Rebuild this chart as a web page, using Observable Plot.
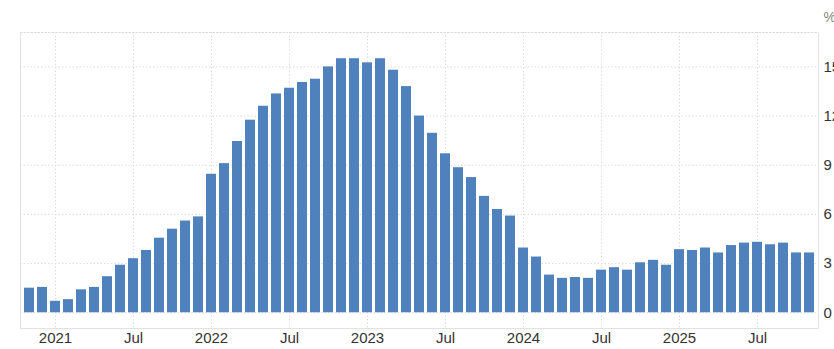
<!DOCTYPE html>
<html>
<head>
<meta charset="utf-8">
<script src="https://cdn.jsdelivr.net/npm/d3@7"></script>
<script src="https://cdn.jsdelivr.net/npm/@observablehq/plot@0.6"></script>
<style>
  html, body { margin: 0; padding: 0; background: #fff; }
  #chart svg { display: block; }
</style>
</head>
<body>
<div id="chart"></div>
<script>
const months = [
  "2020-11","2020-12",
  "2021-01","2021-02","2021-03","2021-04","2021-05","2021-06","2021-07","2021-08","2021-09","2021-10","2021-11","2021-12",
  "2022-01","2022-02","2022-03","2022-04","2022-05","2022-06","2022-07","2022-08","2022-09","2022-10","2022-11","2022-12",
  "2023-01","2023-02","2023-03","2023-04","2023-05","2023-06","2023-07","2023-08","2023-09","2023-10","2023-11","2023-12",
  "2024-01","2024-02","2024-03","2024-04","2024-05","2024-06","2024-07","2024-08","2024-09","2024-10","2024-11","2024-12",
  "2025-01","2025-02","2025-03","2025-04","2025-05","2025-06","2025-07","2025-08","2025-09","2025-10","2025-11"
];
const values = [
  1.5, 1.55,
  0.7, 0.8, 1.4, 1.55, 2.2, 2.9, 3.3, 3.8, 4.55, 5.1, 5.6, 5.85,
  8.45, 9.1, 10.45, 11.75, 12.6, 13.35, 13.7, 14.05, 14.25, 15.0, 15.5, 15.5,
  15.25, 15.5, 14.8, 13.8, 12.0, 10.95, 9.7, 8.85, 8.25, 7.1, 6.3, 5.9,
  3.95, 3.4, 2.3, 2.1, 2.15, 2.1, 2.6, 2.75, 2.6, 3.05, 3.2, 2.9,
  3.85, 3.8, 3.95, 3.65, 4.1, 4.25, 4.3, 4.15, 4.25, 3.65, 3.65
];
const tickMonths = ["2021-01","2021-07","2022-01","2022-07","2023-01","2023-07","2024-01","2024-07","2025-01","2025-07"];
const tickLabels = ["2021","Jul","2022","Jul","2023","Jul","2024","Jul","2025","Jul"];
const yTicks = [0, 3, 6, 9, 12, 15];
const yDomain = [-0.96, 17.1];
const unitLabel = "%";

const data = months.map((m, i) => ({month: m, value: values[i]}));
const labelOf = new Map(tickMonths.map((m, i) => [m, tickLabels[i]]));

const gridColor = "#dcdcdc";
const frameColor = "#e2e2e2";

const chart = Plot.plot({
  width: 834,
  height: 349,
  marginLeft: 20,
  marginRight: 16,
  marginTop: 32,
  marginBottom: 21,
  style: {fontFamily: "'Liberation Sans', Arial, sans-serif", fontSize: "15px", color: "#333", background: "#fff"},
  x: {type: "band", domain: months, paddingInner: 0.23, paddingOuter: 0.115, label: null},
  y: {domain: yDomain, label: null},
  marks: [
    Plot.gridX(tickMonths, {stroke: gridColor, strokeOpacity: 1, strokeDasharray: "1.5,2"}),
    Plot.gridY(yTicks, {stroke: gridColor, strokeOpacity: 1, strokeDasharray: "1.5,2"}),
    Plot.frame({anchor: "top", stroke: gridColor, strokeDasharray: "1.5,2"}),
    Plot.frame({anchor: "left", stroke: frameColor}),
    Plot.frame({anchor: "bottom", stroke: frameColor}),
    Plot.frame({anchor: "right", stroke: frameColor}),
    Plot.barY(data, {x: "month", y: "value", fill: "#4f81bd"}),
    Plot.axisX(tickMonths, {tickSize: 0, tickPadding: 4, tickFormat: (d) => labelOf.get(d), fill: "#333", fontSize: 15}),
    Plot.axisY(yTicks, {anchor: "right", tickSize: 0, tickPadding: 5, textAnchor: "start", fill: "#333", fontSize: 15}),
    Plot.text([unitLabel], {frameAnchor: "top-right", dx: 5, dy: -20, textAnchor: "start", fill: "#888", fontSize: 14})
  ]
});
document.getElementById("chart").appendChild(chart);
</script>
</body>
</html>
